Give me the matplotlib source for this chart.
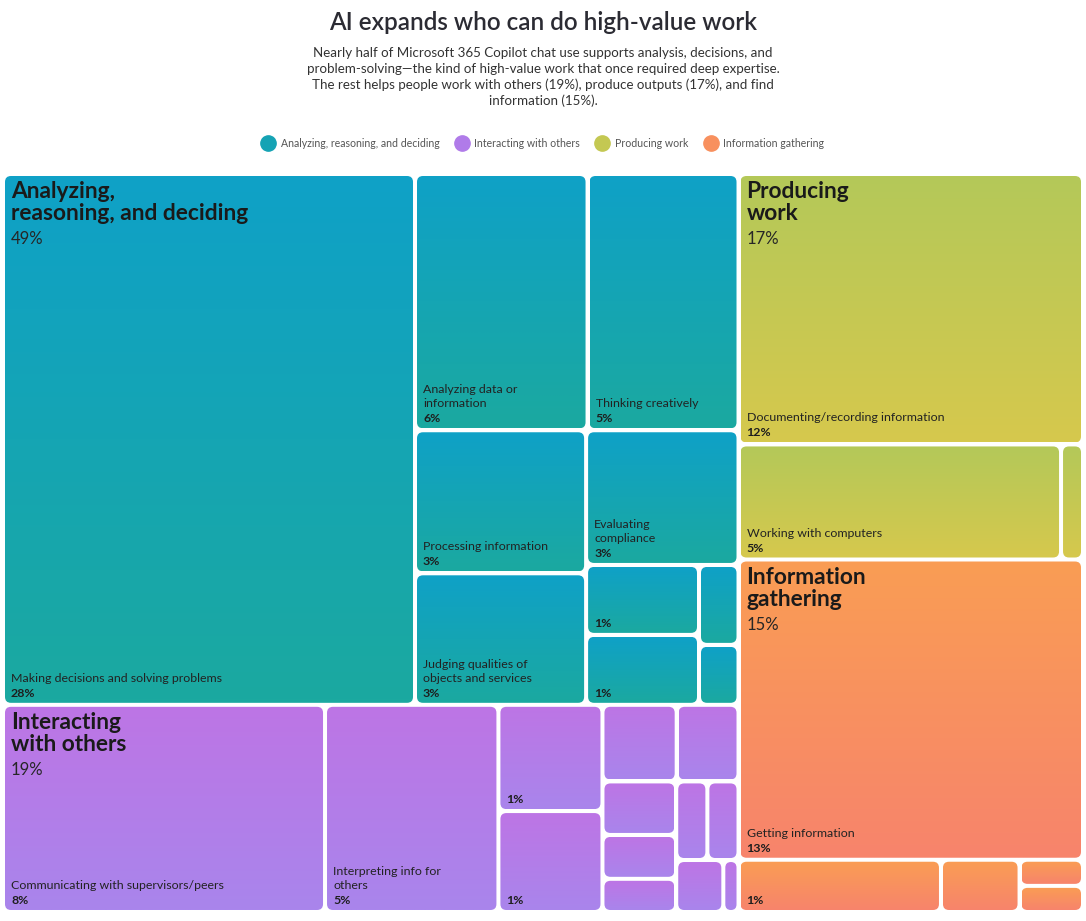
import numpy as np
import matplotlib.pyplot as plt
from matplotlib.patches import FancyBboxPatch
from matplotlib.colors import LinearSegmentedColormap
from matplotlib.lines import Line2D

plt.rcParams['font.family'] = ['Lato', 'DejaVu Sans']

# ---- data (share of Copilot chat use, %) ----
groups = ['Analyzing, reasoning, and deciding', 'Interacting with others',
          'Producing work', 'Information gathering']
group_titles = ['Analyzing,\nreasoning, and deciding', 'Interacting\nwith others',
                'Producing\nwork', 'Information\ngathering']

analyzing_names = ['Making decisions and solving problems', 'Analyzing data or\ninformation',
                   'Thinking creatively', 'Processing information',
                   'Judging qualities of\nobjects and services', 'Evaluating\ncompliance',
                   '', '', '', '']
analyzing_vals = [27.7, 5.6, 4.9, 3.1, 2.85, 2.6, 1.0, 1.0, 0.4, 0.3]

interacting_names = ['Communicating with supervisors/peers', 'Interpreting info for\nothers',
                     '', '', '', '', '', '', '', '', '', '', '']
interacting_vals = [8.45, 4.55, 1.4, 1.33, 0.72, 0.6, 0.5, 0.41, 0.31, 0.31, 0.31, 0.31, 0.1]

producing_names = ['Documenting/recording information', 'Working with computers', '']
producing_vals = [11.8, 4.7, 0.32]

info_names = ['Getting information', '', '', '', '']
info_vals = [13.1, 1.34, 0.52, 0.21, 0.21]

group_names = [analyzing_names, interacting_names, producing_names, info_names]
group_vals = [analyzing_vals, interacting_vals, producing_vals, info_vals]

colors_top = ['#0FA1C7', '#BD75E5', '#B4C859', '#FA9D54']
colors_bottom = ['#1BA9A0', '#A985EC', '#D6C94D', '#F7846C']
legend_colors = ['#15A3B4', '#B07BE9', '#C4C852', '#F8905E']

title = 'AI expands who can do high-value work'
subtitle = ('Nearly half of Microsoft 365 Copilot chat use supports analysis, decisions, and\n'
            'problem-solving\u2014the kind of high-value work that once required deep expertise.\n'
            'The rest helps people work with others (19%), produce outputs (17%), and find\n'
            'information (15%).')

PHI = (1 + 5 ** 0.5) / 2
GAP = 2


def squarify(values, x0, y0, x1, y1, ratio=PHI):
    # d3-style squarified layout, values already sorted
    rects = []
    total = sum(values)
    i0, n = 0, len(values)
    while i0 < n:
        dx, dy = x1 - x0, y1 - y0
        s = values[i0]
        vmin = vmax = s
        alpha = max(dy / dx, dx / dy) / (total * ratio)
        beta = s * s * alpha
        best = max(vmax / beta, beta / vmin)
        i1 = i0 + 1
        while i1 < n:
            v = values[i1]
            s2 = s + v
            beta = s2 * s2 * alpha
            r = max(max(vmax, v) / beta, beta / min(vmin, v))
            if r > best:
                break
            s, best = s2, r
            vmin, vmax = min(vmin, v), max(vmax, v)
            i1 += 1
        row = values[i0:i1]
        if dx < dy:
            h = dy * s / total
            xx = x0
            for v in row:
                w = dx * v / s
                rects.append((xx, y0, xx + w, y0 + h))
                xx += w
            y0 += h
        else:
            w = dx * s / total
            yy = y0
            for v in row:
                h = dy * v / s
                rects.append((x0, yy, x0 + w, yy + h))
                yy += h
            x0 += w
        total -= s
        i0 = i1
    return rects


def cell(ax, r, ctop, cbot):
    x0, y0, x1, y1 = r[0] + GAP, r[1] + GAP, r[2] - GAP, r[3] - GAP
    rs = min(6, (x1 - x0) / 2, (y1 - y0) / 2)
    p = FancyBboxPatch((x0, y0), x1 - x0, y1 - y0,
                       boxstyle=f'round,pad=0,rounding_size={rs}', fc='none', ec='none')
    ax.add_patch(p)
    cmap = LinearSegmentedColormap.from_list('g', [ctop, cbot])
    im = ax.imshow(np.linspace(0, 1, 128).reshape(-1, 1), cmap=cmap, extent=(x0, x1, y1, y0),
                   origin='upper', aspect='auto', interpolation='bilinear')
    im.set_clip_path(p)
    return x0, y0, x1, y1


fig = plt.figure(figsize=(10.86, 9.21), dpi=100)
ax = fig.add_axes([0, 0, 1, 1])

# top level layout
totals = [sum(v) for v in group_vals]
order = sorted(range(len(totals)), key=lambda i: -totals[i])
top_rects = squarify([totals[i] for i in order], 3, 174, 1083, 912)

for gi, grect in zip(order, top_rects):
    names, vals = group_names[gi], group_vals[gi]
    idx = sorted(range(len(vals)), key=lambda i: -vals[i])
    leaf_rects = squarify([vals[i] for i in idx], *grect)
    for k, (i, r) in enumerate(zip(idx, leaf_rects)):
        x0, y0, x1, y1 = cell(ax, r, colors_top[gi], colors_bottom[gi])
        tx = x0 + 6
        if vals[i] >= 0.95:
            ax.text(tx, y1 - 6, f'{round(vals[i])}%', fontsize=8.9, fontweight='bold',
                    color='#1E1E1E', va='baseline', ha='left')
        if names[i]:
            lines = names[i].split('\n')
            for j, line in enumerate(reversed(lines)):
                ax.text(tx, y1 - 21 - 14 * j, line, fontsize=8.9, color='#222222',
                        va='baseline', ha='left')
        if k == 0:
            for j, line in enumerate(group_titles[gi].split('\n')):
                ax.text(tx, y0 + 22 + 22 * j, line, fontsize=16.4, fontweight='bold',
                        color='#1A1A1A', va='baseline', ha='left')
            ax.text(tx, y0 + 68, f'{round(totals[gi])}%', fontsize=12, fontweight='normal',
                    color='#262626', va='baseline', ha='left')

ax.set_xlim(0, 1086)
ax.set_ylim(921, 0)
ax.axis('off')

ax.text(543, 22, title, fontsize=17.5, fontweight='semibold', color='#2B2B33',
        ha='center', va='center')
ax.text(543, 77, subtitle, fontsize=9.65, color='#333333', ha='center', va='center',
        linespacing=1.32)

handles = [Line2D([], [], marker='o', ls='none', ms=11, mfc=c, mec=c) for c in legend_colors]
fig.legend(handles, groups, loc='center', bbox_to_anchor=(0.5, 1 - 143 / 921), ncol=4,
           frameon=False, fontsize=7.6, labelcolor='#555555', handlelength=1.2,
           handletextpad=0.6, columnspacing=1.5)

fig.savefig('out.png', dpi=100)
